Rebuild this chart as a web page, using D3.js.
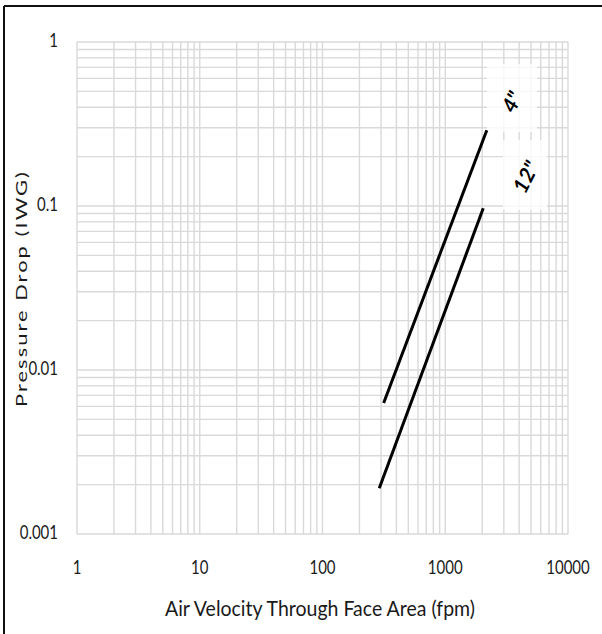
<!DOCTYPE html>
<html><head><meta charset="utf-8">
<script src="https://cdn.jsdelivr.net/npm/d3@7"></script>
<style>
html,body{margin:0;padding:0;background:#fff;}
text{font-family:Lato,"Liberation Sans",sans-serif;fill:#1a1a1a;}
</style></head>
<body>
<svg id="c" width="602" height="634"></svg>
<script>
// ---- data ----
const xTicks = [1, 10, 100, 1000, 10000];
const yTicks = [0.001, 0.01, 0.1, 1];
const xTickLabels = ["1", "10", "100", "1000", "10000"];
const yTickLabels = ["0.001", "0.01", "0.1", "1"];
const seriesNames = ['4"', '12"'];
const series4in  = [{v:315, p:0.0063}, {v:2180, p:0.29}];
const series12in = [{v:290, p:0.0019}, {v:2040, p:0.097}];
const xTitle = "Air Velocity Through Face Area (fpm)";
const yTitle = "Pressure Drop (IWG)";

const svg = d3.select("#c");
const L = 77, R = 568, T = 42, B = 534;
const x = d3.scaleLog().domain([1, 10000]).range([L, R]);
const y = d3.scaleLog().domain([0.001, 1]).range([B, T]);

// frame lines (image border: top and left)
svg.append("line").attr("x1",4).attr("x2",602).attr("y1",6).attr("y2",6).attr("stroke","#111").attr("stroke-width",2);
svg.append("line").attr("x1",4).attr("x2",4).attr("y1",6).attr("y2",634).attr("stroke","#111").attr("stroke-width",2);

// grid (major + minor)
const gridColor = "#d9d9d9";
const xGrid = [];
for (let d = 1; d < 10000; d *= 10) for (let k = 1; k <= 9; k++) xGrid.push(d*k);
xGrid.push(10000);
const yGrid = [];
for (let d = 0.001; d < 0.99; d *= 10) for (let k = 1; k <= 9; k++) yGrid.push(+(d*k).toPrecision(3));
yGrid.push(1);
const g = svg.append("g");
g.selectAll("line.vx").data(xGrid).join("line")
  .attr("x1", d => x(d)).attr("x2", d => x(d)).attr("y1", T).attr("y2", B)
  .attr("stroke", gridColor).attr("stroke-width", 1.4);
g.selectAll("line.hy").data(yGrid).join("line")
  .attr("x1", L).attr("x2", R).attr("y1", d => y(d)).attr("y2", d => y(d))
  .attr("stroke", gridColor).attr("stroke-width", 1.4);

// label boxes
const boxes = svg.append("g");
boxes.append("rect").attr("x", 487).attr("y", 64).attr("width", 50).attr("height", 68).attr("fill", "#fff").attr("opacity", 0.8);
boxes.append("rect").attr("x", 503).attr("y", 140).attr("width", 44).attr("height", 70).attr("fill", "#fff").attr("opacity", 0.8);

// lines
const line = d3.line().x(d => x(d.v)).y(d => y(d.p));
[series4in, series12in].forEach(s => {
  svg.append("path").datum(s).attr("d", line).attr("fill","none")
    .attr("stroke","#000").attr("stroke-width",3);
});

// series labels
const labelPos = [[512, 102], [526, 177]];
seriesNames.forEach((n, i) => {
  svg.append("text").attr("transform", `translate(${labelPos[i][0]},${labelPos[i][1]}) rotate(-63)`)
    .attr("text-anchor","middle").attr("dy","0.35em")
    .style("font-size","21px").style("font-weight","bold").style("font-style","italic")
    .style("fill","#000").text(n);
});

// tick labels
const sy = 1.25;
xTicks.forEach((t, i) => {
  svg.append("text").attr("transform", `translate(${x(t)},574) scale(1,${sy})`)
    .attr("text-anchor","middle").style("font-size","15px").text(xTickLabels[i]);
});
yTicks.forEach((t, i) => {
  svg.append("text").attr("transform", `translate(58,${y(t)+5}) scale(1,${sy})`)
    .attr("text-anchor","end").style("font-size","15px").text(yTickLabels[i]);
});

// axis titles
svg.append("text").attr("transform", `translate(165,616) scale(1,1.2)`)
  .attr("textLength", 310).attr("lengthAdjust","spacingAndGlyphs")
  .style("font-size","18px").text(xTitle);
svg.append("text").attr("transform", `translate(27,407) rotate(-90)`)
  .attr("textLength", 237).attr("lengthAdjust","spacingAndGlyphs")
  .style("font-size","16px").style("letter-spacing","1.5px").text(yTitle);
</script>
</body></html>
